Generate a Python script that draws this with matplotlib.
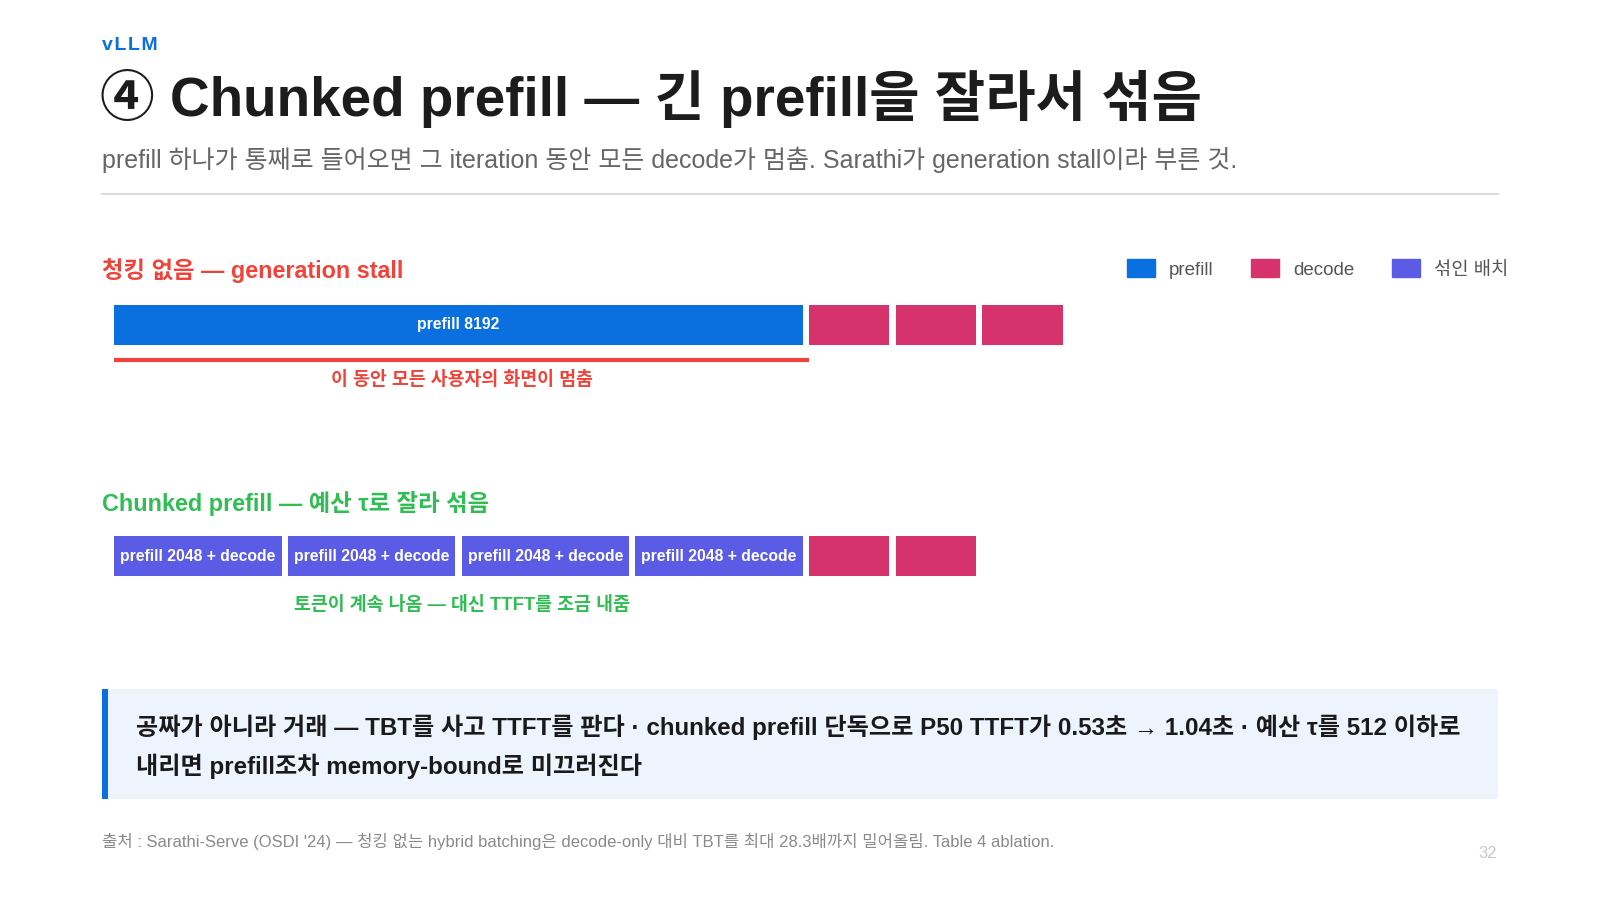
import matplotlib
matplotlib.use("Agg")
import matplotlib.pyplot as plt
import matplotlib.patches as mpatches

plt.rcParams["font.family"] = ["Liberation Sans", "Noto Sans CJK KR", "DejaVu Sans"]

# --- data -------------------------------------------------------------
# timeline in "iteration slots" (1 slot = one decode step)
row_names = ["청킹 없음", "Chunked prefill"]
row1_kinds = ["prefill", "decode", "decode", "decode"]
row1_durations = [8, 1, 1, 1]
row1_labels = ["prefill 8192", "", "", ""]
row2_kinds = ["mixed", "mixed", "mixed", "mixed", "decode", "decode"]
row2_durations = [2, 2, 2, 2, 1, 1]
row2_labels = ["prefill 2048 + decode"] * 4 + ["", ""]
stall_span = (0, 8)

legend_labels = ["prefill", "decode", "섞인 배치"]

COLORS = {"prefill": "#0a70e0", "decode": "#d6336c", "mixed": "#5b5ce6"}
RED = "#f0443a"
GREEN = "#2fbe52"
W, H = 1600, 900

fig = plt.figure(figsize=(16, 9), dpi=100)
fig.patch.set_facecolor("white")


def ftext(x, y, s, **kw):
    """text at figure pixel position (y measured from top)."""
    kw.setdefault("va", "center")
    return fig.text(x / W, 1 - y / H, s, **kw)


# header ("vLLM" is letter-spaced in the original)
ftext(102, 45, "v\u200aL\u200aL\u200aM", color="#0a70e0", fontsize=14, fontweight="bold",
      family=["Liberation Sans", "DejaVu Sans"])
ftext(100, 98, "④ Chunked prefill — 긴 prefill을 잘라서 섞음", color="#1c1c1c",
      fontsize=39.4, fontweight="bold")
ftext(102, 160, "prefill 하나가 통째로 들어오면 그 iteration 동안 모든 decode가 멈춤. "
      "Sarathi가 generation stall이라 부른 것.", color="#666666", fontsize=18)
fig.add_artist(plt.Line2D([102 / W, 1498 / W], [1 - 194 / H] * 2,
                          color="#dddddd", lw=1.5))

# section labels
ftext(102, 271, "청킹 없음 — generation stall", color=RED, fontsize=16.8, fontweight="bold")
ftext(102, 503, "Chunked prefill — 예산 τ로 잘라 섞음", color=GREEN, fontsize=16.8,
      fontweight="bold")

# --- timeline axes -----------------------------------------------------
slot_px = 86.8
x0_px = 114.3
row_gap_px = 231.0
row1_px = 325.0
ylo, yhi = -0.6, 1.6
ax = fig.add_axes([x0_px / W, 1 - (row1_px + yhi * row_gap_px) / H,
                   11 * slot_px / W, (yhi - ylo) * row_gap_px / H])
ax.set_xlim(0, 11)
ax.set_ylim(yhi, ylo)
ax.axis("off")

gap = 0.07
bar_h = 40.5 / row_gap_px
for row, (kinds, durs, labels) in enumerate([(row1_kinds, row1_durations, row1_labels),
                                             (row2_kinds, row2_durations, row2_labels)]):
    start = 0
    for kind, d, lab in zip(kinds, durs, labels):
        ax.barh(row, d - gap, left=start, height=bar_h, color=COLORS[kind], align="center")
        if lab:
            ax.text(start + (d - gap) / 2, row, lab, ha="center", va="center",
                    color="white", fontsize=11.3, fontweight="bold")
        start += d

# stall marker
ax.plot(stall_span, [34.5 / row_gap_px] * 2, color=RED, lw=3, solid_capstyle="butt")
ax.text(sum(stall_span) / 2, 0.24, "이 동안 모든 사용자의 화면이 멈춤", ha="center",
        va="center", color=RED, fontsize=13.2, fontweight="bold")
ax.text(4, 1.212, "토큰이 계속 나옴 — 대신 TTFT를 조금 내줌", ha="center", va="center",
        color=GREEN, fontsize=13.2, fontweight="bold")

# legend
handles = [mpatches.Patch(color=COLORS[k]) for k in ["prefill", "decode", "mixed"]]
leg = fig.legend(handles, legend_labels, loc="center right",
                 bbox_to_anchor=(1516 / W, 1 - 269 / H), ncol=3, frameon=False,
                 fontsize=13.5, handlelength=1.5, handleheight=1.05,
                 handletextpad=0.75, columnspacing=2.0, borderaxespad=0)
for t in leg.get_texts():
    t.set_color("#555555")

# callout box
fig.add_artist(mpatches.Rectangle((102 / W, 1 - 799 / H), 1396 / W, 110 / H,
                                  transform=fig.transFigure, color="#edf4fd", lw=0))
fig.add_artist(mpatches.Rectangle((102 / W, 1 - 799 / H), 6 / W, 110 / H,
                                  transform=fig.transFigure, color="#0a70e0", lw=0))
ftext(136, 727, "공짜가 아니라 거래 — TBT를 사고 TTFT를 판다 · chunked prefill 단독으로 "
      "P50 TTFT가 0.53초 → 1.04초 · 예산 τ를 512 이하로", color="#1a1a1a",
      fontsize=17.4, fontweight="bold")
ftext(136, 766, "내리면 prefill조차 memory-bound로 미끄러진다", color="#1a1a1a",
      fontsize=17.4, fontweight="bold")

# footer
ftext(102, 842, "출처 : Sarathi-Serve (OSDI '24) — 청킹 없는 hybrid batching은 decode-only "
      "대비 TBT를 최대 28.3배까지 밀어올림. Table 4 ablation.", color="#8a8a8a",
      fontsize=12)
ftext(1488, 853, "32", color="#c8c8c8", fontsize=12, ha="center")

fig.savefig("out.png", dpi=100)
